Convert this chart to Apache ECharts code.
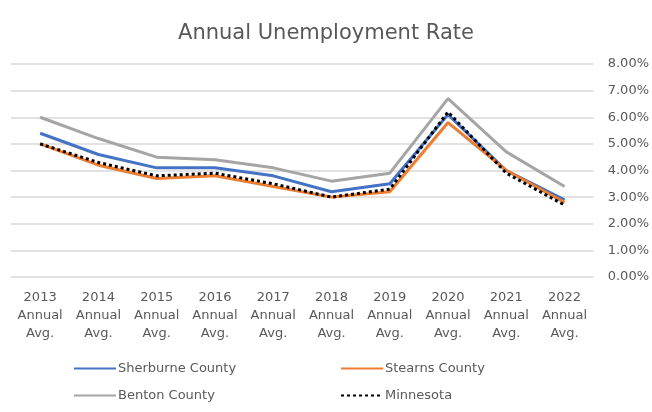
<!DOCTYPE html>
<html>
<head>
<meta charset="utf-8">
<script src="https://cdn.jsdelivr.net/npm/echarts@6/dist/echarts.min.js"></script>
<style>
  html, body { margin: 0; padding: 0; background: #fff; }
  #chart { width: 652px; height: 412px; }
</style>
</head>
<body>
<div id="chart"></div>
<script>
// categories and series values (percent)
var years = ["2013", "2014", "2015", "2016", "2017", "2018", "2019", "2020", "2021", "2022"];
var sherburne = [5.4, 4.6, 4.1, 4.1, 3.8, 3.2, 3.5, 6.1, 4.0, 2.9];
var stearns = [5.0, 4.2, 3.7, 3.8, 3.4, 3.0, 3.2, 5.8, 4.0, 2.8];
var benton = [6.0, 5.2, 4.5, 4.4, 4.1, 3.6, 3.9, 6.7, 4.7, 3.4];
var minnesota = [5.0, 4.3, 3.8, 3.9, 3.5, 3.0, 3.3, 6.2, 3.9, 2.7];

var font = "DejaVu Sans";
var textColor = "#595959";

var chart = echarts.init(document.getElementById("chart"));

var legendBase = {
  orient: "vertical",
  top: 357,
  itemWidth: 42,
  itemHeight: 4,
  itemGap: 14,
  itemStyle: { opacity: 0 },
  textStyle: { fontFamily: font, fontSize: 13, color: textColor, padding: [0, 0, 0, -3] }
};

var option = {
  backgroundColor: "#fff",
  animation: false,
  title: {
    text: "Annual Unemployment Rate",
    left: "center",
    top: 18,
    textStyle: { fontFamily: font, fontSize: 21, fontWeight: "normal", color: textColor }
  },
  legend: [
    // left column
    Object.assign({}, legendBase, { data: ["Sherburne County", "Benton County"], left: 68 }),
    // right column
    Object.assign({}, legendBase, { data: ["Stearns County", "Minnesota"], left: 335 })
  ],
  grid: { left: 11, right: 57, top: 64, bottom: 135 },
  xAxis: {
    type: "category",
    data: years,
    boundaryGap: true,
    axisLine: { show: false },
    axisTick: { show: false },
    axisLabel: {
      interval: 0,
      fontFamily: font,
      fontSize: 13,
      color: textColor,
      lineHeight: 18,
      margin: 12,
      formatter: function (v) { return v + "\nAnnual\nAvg."; }
    }
  },
  yAxis: {
    type: "value",
    position: "right",
    min: 0,
    max: 8,
    interval: 1,
    axisLine: { show: false },
    axisTick: { show: false },
    splitLine: { lineStyle: { color: "#d9d9d9", width: 1.5 } },
    axisLabel: {
      fontFamily: font,
      fontSize: 13,
      color: textColor,
      margin: 14,
      formatter: function (v) { return v.toFixed(2) + "%"; }
    }
  },
  series: [
    {
      name: "Benton County",
      type: "line",
      data: benton,
      symbol: "none",
      z: 1,
      itemStyle: { color: "#a5a5a5" },
      lineStyle: { color: "#a5a5a5", width: 3 }
    },
    {
      name: "Sherburne County",
      type: "line",
      data: sherburne,
      symbol: "none",
      z: 2,
      itemStyle: { color: "#4472c4" },
      lineStyle: { color: "#4472c4", width: 3 }
    },
    {
      name: "Stearns County",
      type: "line",
      data: stearns,
      symbol: "none",
      z: 3,
      itemStyle: { color: "#ed7d31" },
      lineStyle: { color: "#ed7d31", width: 3 }
    },
    {
      name: "Minnesota",
      type: "line",
      data: minnesota,
      symbol: "none",
      z: 4,
      itemStyle: { color: "#000" },
      lineStyle: { color: "#000", width: 3, type: [3, 3] }
    }
  ]
};

chart.setOption(option);
</script>
</body>
</html>
